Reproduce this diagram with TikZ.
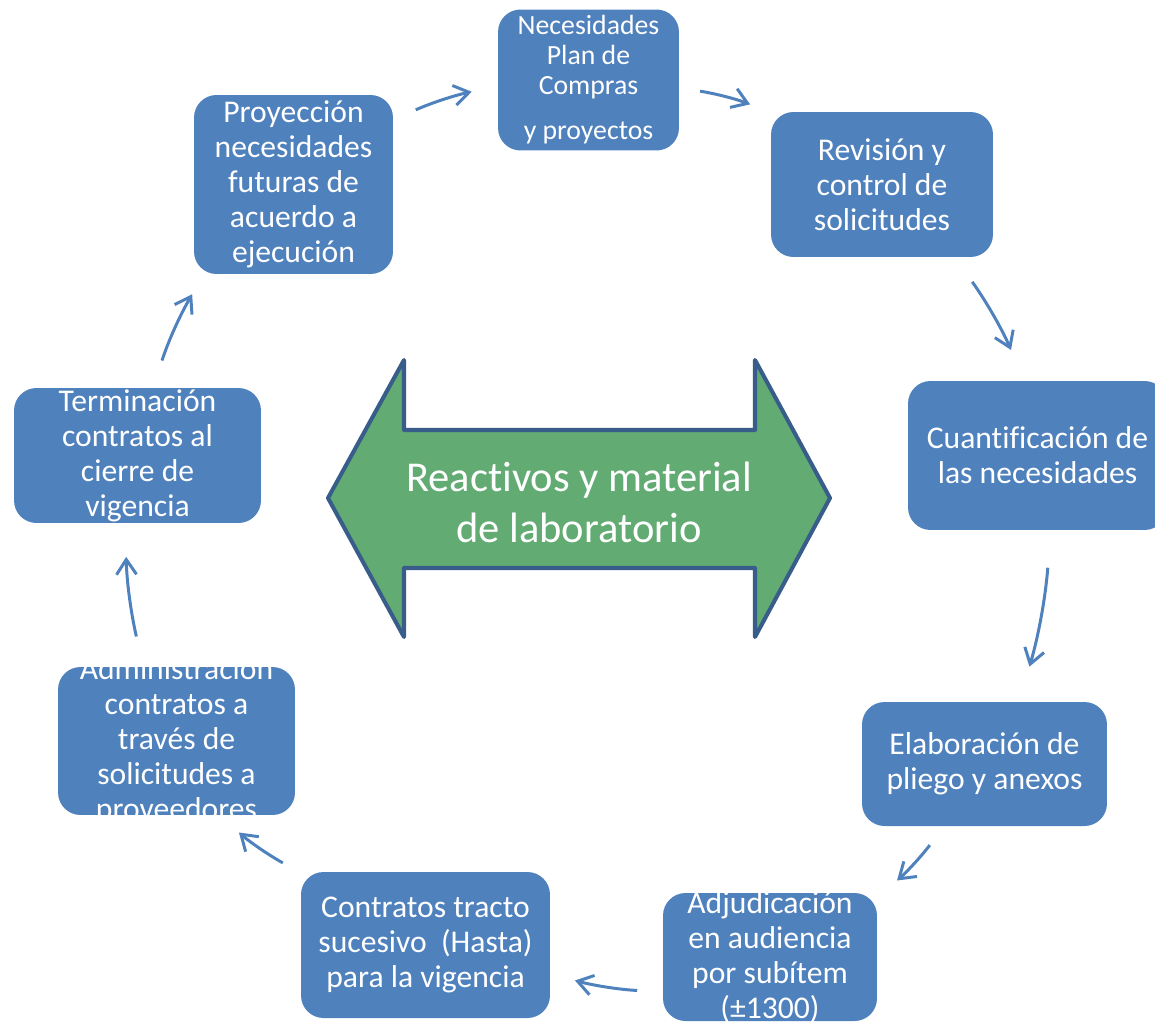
\documentclass[tikz,border=0pt]{standalone}
\usepackage{fontspec}
\setmainfont[Ligatures=NoCommon]{Carlito}
\usetikzlibrary{arrows.meta}
\definecolor{cajaazul}{HTML}{4F81BD}
\definecolor{verde}{RGB}{98,171,115}
\definecolor{borde}{HTML}{385D8A}

\begin{document}
\begin{tikzpicture}[x=0.02cm,y=-0.02cm,
    caja/.style={rectangle,rounded corners=0.45cm,fill=cajaazul,text=white,align=center,inner sep=-1cm,font=\fontsize{18}{19.9}\selectfont},
    flecha/.style={draw=cajaazul,line width=1.7pt,-{Straight Barb[length=3mm,width=4mm]},bend left=6}]
  \clip (0,0) rectangle (1155,1021);
  \draw[fill=verde,draw=borde,line width=2.3pt,line join=round] (328,498) -- (404,360) -- (404,430) -- (755,430) -- (755,360) -- (830,498) -- (755,637) -- (755,568) -- (404,568) -- (404,637) -- cycle;
  \node[text=white,align=center,font=\fontsize{24.2}{29}\selectfont] (centro) at (579,502) {Reactivos y material\\de laboratorio};
  \node[caja,minimum width=3.62cm,minimum height=2.82cm,font=\fontsize{15.8}{17.1}\selectfont] (nec) at (588.5,80) {Necesidades\\Plan de\\Compras\\[0.3cm]y proyectos};
  \node[caja,minimum width=4.44cm,minimum height=2.9cm] (rev) at (882,184.5) {Revisión y\\control de\\solicitudes};
  \node[caja,minimum width=5.18cm,minimum height=2.98cm] (cua) at (1037.5,455.5) {Cuantificación de\\las necesidades};
  \node[caja,minimum width=4.9cm,minimum height=2.48cm] (ela) at (984.5,764) {Elaboración de\\pliego y anexos};
  \node[caja,minimum width=4.28cm,minimum height=2.56cm] (adj) at (770,957) {Adjudicación\\en audiencia\\por subítem\\(±1300)};
  \node[caja,minimum width=4.98cm,minimum height=2.92cm] (con) at (425.5,945) {Contratos tracto\\sucesivo\ \ (Hasta)\\para la vigencia};
  \node[caja,minimum width=4.74cm,minimum height=2.96cm] (adm) at (176.5,741) {Administración\\contratos a\\través de\\solicitudes a\\proveedores};
  \node[caja,minimum width=4.94cm,minimum height=2.7cm] (ter) at (137.5,455.5) {Terminación\\contratos al\\cierre de\\vigencia};
  \node[caja,minimum width=3.98cm,minimum height=3.58cm] (pro) at (293.5,184.5) {Proyección\\necesidades\\futuras de\\acuerdo a\\ejecución};
  \draw[flecha,shorten <=0.49cm,shorten >=0.53cm] (pro.33) to (nec.184);
  \draw[flecha,shorten <=0.42cm,shorten >=0.44cm] (nec.355) to (rev.147);
  \draw[flecha,shorten <=0.6cm,shorten >=0.67cm] (rev.315) to (cua.100);
  \draw[flecha,shorten <=0.75cm,shorten >=0.73cm] (cua.280) to (ela.61);
  \draw[flecha,shorten <=0.47cm,shorten >=0.52cm] (ela.237) to (adj.29);
  \draw[flecha,shorten <=0.51cm,shorten >=0.51cm] (adj.198) to (con.347);
  \draw[flecha,shorten <=0.41cm,shorten >=0.52cm] (con.150) to (adm.300);
  \draw[flecha,shorten <=0.62cm,shorten >=0.67cm] (adm.114) to (ter.260);
  \draw[flecha,shorten <=0.57cm,shorten >=0.46cm] (ter.77) to (pro.225);
\end{tikzpicture}
\end{document}
